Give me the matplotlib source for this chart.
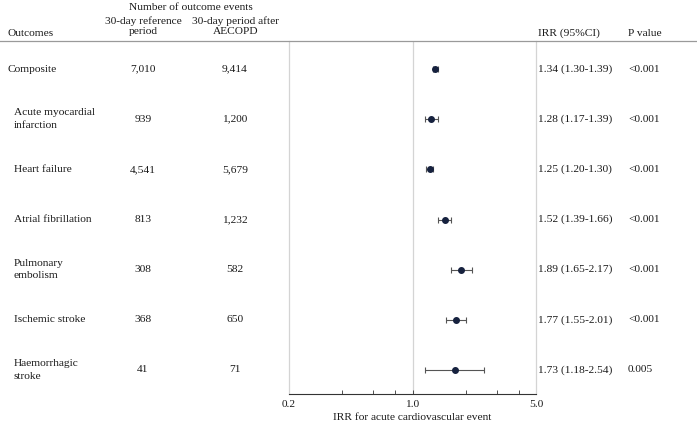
import matplotlib.pyplot as plt
import matplotlib.transforms as mtransforms
from matplotlib.lines import Line2D
from matplotlib.ticker import FixedLocator, NullFormatter
import numpy as np

plt.rcParams['font.family'] = ['Liberation Serif', 'DejaVu Serif']

outcomes = ['Composite', 'Acute myocardial\ninfarction', 'Heart failure',
            'Atrial fibrillation', 'Pulmonary\nembolism', 'Ischemic stroke',
            'Haemorrhagic\nstroke']
n_ref = ['7,010', '939', '4,541', '813', '308', '368', '41']
n_after = ['9,414', '1,200', '5,679', '1,232', '582', '650', '71']
irr = [1.34, 1.28, 1.25, 1.52, 1.89, 1.77, 1.73]
ci_low = [1.30, 1.17, 1.20, 1.39, 1.65, 1.55, 1.18]
ci_high = [1.39, 1.39, 1.30, 1.66, 2.17, 2.01, 2.54]
pvals = ['<0.001', '<0.001', '<0.001', '<0.001', '<0.001', '<0.001', '0.005']

W, H = 697, 426
fs = 8.2
txtc = '#1a1a1a'
fig = plt.figure(figsize=(W / 100, H / 100), dpi=100)
ax = fig.add_axes([289 / W, 1 - 394 / H, (536 - 289) / W, (394 - 41) / H])

rows = np.arange(len(outcomes))
ax.set_xscale('log')
ax.set_xlim(0.2, 5.0)
ax.set_ylim(6.48, -0.56)

ax.axvline(1.0, color='#d4d4d4', lw=0.9, zorder=0)
err = [np.array(irr) - np.array(ci_low), np.array(ci_high) - np.array(irr)]
ax.errorbar(irr, rows, xerr=err, fmt='o', color='#16213e', ms=4,
            ecolor='#555555', elinewidth=0.8, capsize=2.5, capthick=0.8)

ax.xaxis.set_major_locator(FixedLocator([0.2, 1.0, 5.0]))
ax.xaxis.set_minor_locator(FixedLocator([0.4, 0.6, 0.8, 2, 3, 4]))
ax.xaxis.set_minor_formatter(NullFormatter())
ax.set_xticklabels(['0.2', '1.0', '5.0'], fontsize=fs, color=txtc)
ax.tick_params(axis='x', which='both', direction='in', length=3,
               width=0.6, color='#333333', pad=4)
ax.set_yticks([])
ax.set_xlabel('IRR for acute cardiovascular event', fontsize=fs,
              labelpad=3.5, color=txtc)
for s in ['left', 'right']:
    ax.spines[s].set_color('#d4d4d4')
    ax.spines[s].set_linewidth(0.9)
ax.spines['top'].set_visible(False)
ax.spines['bottom'].set_color('#333333')
ax.spines['bottom'].set_linewidth(0.8)

# header line across the whole figure
fig.add_artist(Line2D([0, 1], [1 - 41 / H, 1 - 41 / H], color='#9a9a9a', lw=0.9))

tr = mtransforms.blended_transform_factory(fig.transFigure, ax.transData)
for i in rows:
    x0 = 8 if i == 0 else 14
    ax.text(x0 / W, i, outcomes[i], transform=tr, fontsize=fs, va='center',
            ha='left', linespacing=1.5, color=txtc, clip_on=False)
    ax.text(143 / W, i, n_ref[i], transform=tr, fontsize=fs, va='center',
            ha='center', color=txtc, clip_on=False)
    ax.text(235 / W, i, n_after[i], transform=tr, fontsize=fs, va='center',
            ha='center', color=txtc, clip_on=False)
    ax.text(538 / W, i, f'{irr[i]:.2f} ({ci_low[i]:.2f}-{ci_high[i]:.2f})',
            transform=tr, fontsize=fs, va='center', ha='left', color=txtc,
            clip_on=False)
    ax.text(628 / W, i, pvals[i], transform=tr, fontsize=fs, va='center',
            ha='left', color=txtc, clip_on=False)

# column headers
fig.text(191 / W, 1 - 8 / H, 'Number of outcome events', fontsize=fs,
         ha='center', va='center', color=txtc)
fig.text(143 / W, 1 - 26.5 / H, '30-day reference\nperiod', fontsize=fs,
         ha='center', va='center', linespacing=1.15, color=txtc)
fig.text(235.5 / W, 1 - 26.5 / H, '30-day period after\nAECOPD', fontsize=fs,
         ha='center', va='center', linespacing=1.15, color=txtc)
fig.text(8 / W, 1 - 33 / H, 'Outcomes', fontsize=fs, ha='left', va='center',
         color=txtc)
fig.text(538 / W, 1 - 33 / H, 'IRR (95%CI)', fontsize=fs, ha='left',
         va='center', color=txtc)
fig.text(628 / W, 1 - 33 / H, 'P value', fontsize=fs, ha='left', va='center',
         color=txtc)

fig.savefig('out.png', dpi=100)
